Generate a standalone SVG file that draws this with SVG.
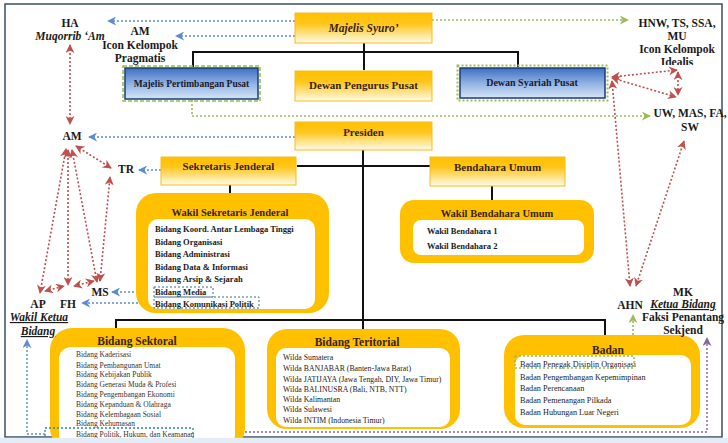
<svg xmlns="http://www.w3.org/2000/svg" width="728" height="443" viewBox="0 0 728 443">
<defs>
<linearGradient id="gy" x1="0" y1="0" x2="0" y2="1">
<stop offset="0" stop-color="#ffc000"/><stop offset="0.35" stop-color="#ffc51a"/><stop offset="1" stop-color="#fffbea"/>
</linearGradient>
<linearGradient id="gb" x1="0" y1="0" x2="0" y2="1">
<stop offset="0" stop-color="#3f6fc4"/><stop offset="0.5" stop-color="#8fb1e3"/><stop offset="1" stop-color="#d6e4f6"/>
</linearGradient>
<marker id="ar" viewBox="0 0 10 10" refX="9" refY="5" markerWidth="9" markerHeight="9" markerUnits="userSpaceOnUse" orient="auto-start-reverse"><path d="M0,0 L10,5 L0,10 L3,5 z" fill="#c0504d"/></marker>
<marker id="ab" viewBox="0 0 10 10" refX="9" refY="5" markerWidth="9" markerHeight="9" markerUnits="userSpaceOnUse" orient="auto-start-reverse"><path d="M0,0 L10,5 L0,10 L3,5 z" fill="#5b8bd0"/></marker>
<marker id="ag" viewBox="0 0 10 10" refX="9" refY="5" markerWidth="9" markerHeight="9" markerUnits="userSpaceOnUse" orient="auto-start-reverse"><path d="M0,0 L10,5 L0,10 L3,5 z" fill="#9bbb59"/></marker>
<marker id="ap" viewBox="0 0 10 10" refX="9" refY="5" markerWidth="9" markerHeight="9" markerUnits="userSpaceOnUse" orient="auto-start-reverse"><path d="M0,0 L10,5 L0,10 L3,5 z" fill="#8064a2"/></marker>
<clipPath id="clipIdealis"><rect x="600" y="40" width="128" height="25"/></clipPath>
</defs>
<style>
text{font-family:"Liberation Serif","DejaVu Serif",serif;fill:#1a1a1a}
.lbl{font-size:11.5px;font-weight:bold;text-anchor:middle}
.it{font-style:italic}
.ul{text-decoration:underline}
.ttl{font-size:11px;font-weight:bold;text-anchor:middle;fill:#3a2410}
.ybox{fill:url(#gy);stroke:#f2be1c;stroke-width:1}
.bbox{fill:url(#gb);stroke:#1f3b6e;stroke-width:1.5}
.gout{fill:none;stroke:#8dc04c;stroke-width:1.5;stroke-dasharray:4 2}
.gdot{fill:none;stroke:#9bbb59;stroke-width:2;stroke-dasharray:2 2}
.yo{fill:#ffc000}
.wi{fill:#ffffff}
.bl{stroke:#111;stroke-width:2;fill:none}
.red{stroke:#c0504d;stroke-width:1.6;stroke-dasharray:2 2;fill:none;marker-start:url(#ar);marker-end:url(#ar)}
.blu{stroke:#5b8bd0;stroke-width:1.4;stroke-dasharray:2 2;fill:none;marker-end:url(#ab)}
.grn{stroke:#9bbb59;stroke-width:1.6;stroke-dasharray:2 2;fill:none;marker-end:url(#ag)}
.pur{stroke:#8064a2;stroke-width:1.4;stroke-dasharray:2 2;fill:none;marker-end:url(#ap)}
.dbox{fill:none;stroke:#3d6f8a;stroke-width:1;stroke-dasharray:2 2}
.tbox{fill:none;stroke:#31849b;stroke-width:1.3;stroke-dasharray:2 2}
.gbox2{fill:none;stroke:#9bbb59;stroke-width:1.4;stroke-dasharray:2 2}
.i1{font-size:8.5px;font-weight:bold}
.i2{font-size:7.5px;fill:#333}
.i3{font-size:7.8px;fill:#222}
.i4{font-size:8.2px;fill:#222}
</style>
<rect x="0" y="0" width="728" height="443" fill="#ffffff"/>
<rect x="5" y="4" width="717" height="433" fill="none" stroke="#3d4f60" stroke-width="1.5"/>

<g id="connectors">
<path class="bl" d="M193,67 V52 H518 V67"/>
<path class="bl" d="M364,43 V70"/>
<path class="bl" d="M363,150 V329"/>
<path class="bl" d="M297,166 H430"/>
<path class="bl" d="M230,185 V193"/>
<path class="bl" d="M492,186 V200"/>
<path class="bl" d="M116,330 V320 H605 V335"/>
<path class="blu" d="M295,21 H108"/>
<path class="blu" d="M295,36 H176"/>
<path class="blu" d="M295,137 H89"/>
<path class="blu" d="M161,170 H139"/>
<path class="blu" d="M154,292 H112"/>
<path class="blu" d="M154,303 H82"/>
<path class="blu" d="M45,434 H27 V340"/>
<path class="grn" d="M432,20 H628"/>
<path class="grn" d="M192,100 V116 H650"/>
<path class="grn" d="M633,355 V315"/>
<path class="pur" d="M193,432 H707 V338"/>
<path class="red" d="M70,45 V124"/>
<path class="red" d="M66,149 L40,293"/>
<path class="red" d="M68,150 V285"/>
<path class="red" d="M72,150 L97,282"/>
<path class="red" d="M76,146 L111,168"/>
<path class="red" d="M100,281 L110,177"/>
<path class="red" d="M45,291 L64,286"/>
<path class="red" d="M74,286 L94,281"/>
<path class="red" d="M612,77 L677,70"/>
<path class="red" d="M612,78 L676,97"/>
<path class="red" d="M678,72 V95"/>
<path class="red" d="M612,81 L630,286"/>
<path class="red" d="M684,141 L636,286"/>
</g>

<g id="majelis-syuro">
<rect class="ybox" x="295" y="13" width="137" height="30"/>
<text class="ttl it" x="363.5" y="32" style="font-size:11.5px">Majelis Syuro’</text>
</g>
<g id="majelis-pertimbangan-pusat">
<rect class="bbox" x="125" y="68" width="133" height="31"/>
<rect class="gout" x="123" y="66" width="137" height="35"/>
<text x="191.5" y="87" style="font-size:9.5px;font-weight:bold;text-anchor:middle;fill:#1a1a2a">Majelis Pertimbangan Pusat</text>
</g>
<g id="dewan-pengurus-pusat">
<rect class="ybox" x="295" y="71" width="137" height="30"/>
<text class="ttl" x="363.5" y="89">Dewan Pengurus Pusat</text>
</g>
<g id="dewan-syariah-pusat">
<rect class="bbox" x="460" y="68" width="145" height="30"/>
<rect class="gdot" x="457.5" y="65.5" width="150" height="35"/>
<text x="532" y="86" style="font-size:10px;font-weight:bold;text-anchor:middle;fill:#1a1a2a">Dewan Syariah Pusat</text>
</g>
<g id="presiden">
<rect class="ybox" x="295" y="122" width="137" height="28"/>
<text class="ttl" x="363.5" y="136">Presiden</text>
</g>
<g id="sekretaris-jenderal">
<rect class="ybox" x="161" y="157" width="135" height="28"/>
<text class="ttl" x="228.5" y="170">Sekretaris Jenderal</text>
</g>
<g id="bendahara-umum">
<rect class="ybox" x="430" y="157" width="135" height="29"/>
<text class="ttl" x="497.5" y="171">Bendahara Umum</text>
</g>
<g id="wakil-sekretaris-jenderal">
<rect class="yo" x="136" y="193" width="193" height="120" rx="20"/>
<rect class="wi" x="148" y="219" width="167" height="90" rx="10"/>
<text class="ttl" x="230" y="216" style="font-size:10.5px">Wakil Sekretaris Jenderal</text>
<text class="i1" x="155" y="232">Bidang Koord. Antar Lembaga Tinggi</text>
<text class="i1" x="155" y="244.5">Bidang Organisasi</text>
<text class="i1" x="155" y="257">Bidang Administrasi</text>
<text class="i1" x="155" y="269.5">Bidang Data &amp; Informasi</text>
<text class="i1" x="155" y="282">Bidang Arsip &amp; Sejarah</text>
<text class="i1" x="155" y="294.5">Bidang Media</text>
<text class="i1" x="155" y="307">Bidang Komunikasi Politik</text>
<rect class="dbox" x="154" y="287" width="59" height="10"/>
<rect class="dbox" x="154" y="297" width="105" height="11"/>
</g>
<g id="wakil-bendahara-umum">
<rect class="yo" x="400" y="200" width="194" height="63" rx="14"/>
<rect class="wi" x="413" y="220" width="171" height="35" rx="8"/>
<text class="ttl" x="497" y="217" style="font-size:10.5px">Wakil Bendahara Umum</text>
<text class="i1" x="427" y="234">Wakil Bendahara 1</text>
<text class="i1" x="427" y="249">Wakil Bendahara 2</text>
</g>
<g id="bidang-sektoral">
<rect class="yo" x="50" y="328" width="195" height="122" rx="22"/>
<rect class="wi" x="59" y="347" width="176" height="100" rx="12"/>
<text class="ttl" x="137" y="345" style="font-size:11.5px">Bidang Sektoral</text>
<text class="i2" x="76" y="357">Bidang Kaderisasi</text>
<text class="i2" x="76" y="367.5">Bidang Pembangunan Umat</text>
<text class="i2" x="76" y="377">Bidang Kebijakan Publik</text>
<text class="i2" x="76" y="387">Bidang Generasi Muda &amp; Profesi</text>
<text class="i2" x="76" y="396.5">Bidang Pengembangan Ekonomi</text>
<text class="i2" x="76" y="406.5">Bidang Kepanduan &amp; Olahraga</text>
<text class="i2" x="76" y="416.5">Bidang Kelembagaan Sosial</text>
<text class="i2" x="76" y="426">Bidang Kehumasan</text>
<text class="i2" x="76" y="436.5">Bidang Politik, Hukum, dan Keamanan</text>
<rect class="tbox" x="45" y="428" width="148" height="14"/>
</g>
<g id="bidang-teritorial">
<rect class="yo" x="267" y="329" width="193" height="100" rx="20"/>
<rect class="wi" x="276" y="348" width="174" height="79" rx="10"/>
<text class="ttl" x="357" y="346" style="font-size:11.5px">Bidang Teritorial</text>
<text class="i3" x="283" y="360">Wilda Sumatera</text>
<text class="i3" x="283" y="371">Wilda BANJABAR (Banten-Jawa Barat)</text>
<text class="i3" x="283" y="382">Wilda JATIJAYA (Jawa Tengah, DIY, Jawa Timur)</text>
<text class="i3" x="283" y="392">Wilda BALINUSRA (Bali, NTB, NTT)</text>
<text class="i3" x="283" y="402">Wilda Kalimantan</text>
<text class="i3" x="283" y="412">Wilda Sulawesi</text>
<text class="i3" x="283" y="423">Wilda INTIM (Indonesia Timur)</text>
</g>
<g id="badan">
<rect class="yo" x="504" y="335" width="196" height="93" rx="20"/>
<rect class="wi" x="515" y="355" width="176" height="70" rx="10"/>
<text class="ttl" x="608" y="354" style="font-size:11.5px">Badan</text>
<text class="i4" x="520" y="367">Badan Penegak Disiplin Organisasi</text>
<text class="i4" x="520" y="380">Badan Pengembangan Kepemimpinan</text>
<text class="i4" x="520" y="391">Badan Perencanaan</text>
<text class="i4" x="520" y="403">Badan Pemenangan Pilkada</text>
<text class="i4" x="520" y="415">Badan Hubungan Luar Negeri</text>
<rect class="gbox2" x="515" y="356" width="119" height="12"/>
</g>

<g id="ha">
<text class="lbl" x="70" y="27">HA</text>
<text class="lbl it" x="70" y="40">Muqorrib ‘Am</text>
</g>
<g id="am-pragmatis">
<text class="lbl" x="140" y="35">AM</text>
<text class="lbl" x="140" y="49">Icon Kelompok</text>
<text class="lbl" x="140" y="62">Pragmatis</text>
</g>
<g id="hnw">
<text class="lbl" x="677" y="27">HNW, TS, SSA,</text>
<text class="lbl" x="677" y="39.5">MU</text>
<text class="lbl" x="677" y="53">Icon Kelompok</text>
<text class="lbl" x="677" y="66" clip-path="url(#clipIdealis)">Idealis</text>
</g>
<g id="uw">
<text class="lbl" x="690" y="117">UW, MAS, FA,</text>
<text class="lbl" x="690" y="131">SW</text>
</g>
<g id="am"><text class="lbl" x="72" y="140">AM</text></g>
<g id="tr"><text class="lbl" x="126" y="173">TR</text></g>
<g id="ms"><text class="lbl" x="100" y="296">MS</text></g>
<g id="ap-fh">
<text class="lbl" x="38" y="308">AP</text>
<text class="lbl" x="68" y="308">FH</text>
<text class="lbl it ul" x="39" y="321">Wakil Ketua</text>
<text class="lbl it ul" x="38" y="335">Bidang</text>
</g>
<g id="ahn"><text class="lbl" x="630" y="309">AHN</text></g>
<g id="mk">
<text class="lbl" x="683" y="296">MK</text>
<text class="lbl it ul" x="683" y="308">Ketua Bidang</text>
<text class="lbl" x="683" y="321">Faksi Penantang</text>
<text class="lbl" x="683" y="334">Sekjend</text>
</g>
<rect x="0" y="437.8" width="728" height="5.2" fill="#e4edf5"/>
</svg>
